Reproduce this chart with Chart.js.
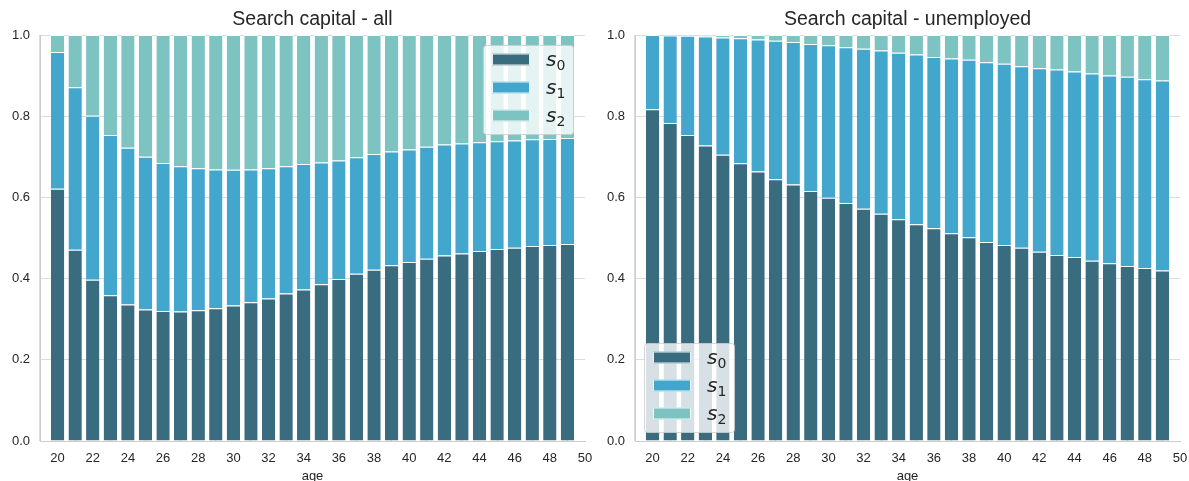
<!DOCTYPE html>
<html>
<head>
<meta charset="utf-8">
<title>Search capital by age</title>
<script src="https://cdn.jsdelivr.net/npm/chart.js@4.4.1/dist/chart.umd.min.js"></script>
<style>
  html, body { margin: 0; padding: 0; background: #ffffff; }
  #wrap { width: 1189px; height: 481px; display: flex; }
  canvas { display: block; }
</style>
</head>
<body>
<div id="wrap">
  <canvas id="chartAll" width="594" height="481"></canvas>
  <canvas id="chartUnemp" width="595" height="481"></canvas>
</div>
<script>
// Age groups on the x axis
const ages = [20, 21, 22, 23, 24, 25, 26, 27, 28, 29, 30, 31, 32, 33, 34,
              35, 36, 37, 38, 39, 40, 41, 42, 43, 44, 45, 46, 47, 48, 49];

// Share of search capital levels, all workers
const allS0 = [0.621, 0.471, 0.397, 0.359, 0.336, 0.324, 0.320, 0.319, 0.322, 0.327,
               0.334, 0.342, 0.351, 0.363, 0.373, 0.386, 0.399, 0.412, 0.422, 0.433,
               0.441, 0.449, 0.457, 0.462, 0.468, 0.473, 0.476, 0.480, 0.483, 0.485];
const allS1 = [0.337, 0.400, 0.404, 0.395, 0.386, 0.376, 0.365, 0.358, 0.350, 0.342,
               0.334, 0.327, 0.321, 0.314, 0.309, 0.300, 0.292, 0.287, 0.285, 0.280,
               0.277, 0.276, 0.273, 0.271, 0.268, 0.265, 0.264, 0.263, 0.261, 0.261];
const allS2 = [0.042, 0.129, 0.199, 0.246, 0.278, 0.300, 0.315, 0.323, 0.328, 0.331,
               0.332, 0.331, 0.328, 0.323, 0.318, 0.314, 0.309, 0.301, 0.293, 0.287,
               0.282, 0.275, 0.270, 0.267, 0.264, 0.262, 0.260, 0.257, 0.256, 0.254];

// Share of search capital levels, unemployed workers
const unempS0 = [0.817, 0.783, 0.754, 0.728, 0.705, 0.684, 0.664, 0.645, 0.632, 0.616,
                 0.599, 0.586, 0.572, 0.560, 0.546, 0.534, 0.524, 0.512, 0.502, 0.490,
                 0.483, 0.476, 0.466, 0.458, 0.453, 0.444, 0.438, 0.431, 0.426, 0.420];
const unempS1 = [0.183, 0.216, 0.244, 0.268, 0.289, 0.308, 0.325, 0.341, 0.351, 0.362,
                 0.376, 0.384, 0.394, 0.402, 0.410, 0.418, 0.422, 0.430, 0.437, 0.443,
                 0.446, 0.447, 0.452, 0.457, 0.457, 0.461, 0.462, 0.466, 0.465, 0.468];
const unempS2 = [0.000, 0.001, 0.002, 0.004, 0.006, 0.008, 0.011, 0.014, 0.017, 0.022,
                 0.025, 0.030, 0.034, 0.038, 0.044, 0.048, 0.054, 0.058, 0.061, 0.067,
                 0.071, 0.077, 0.082, 0.085, 0.090, 0.095, 0.100, 0.103, 0.109, 0.112];

// Tick labels
const xTicks = [20, 22, 24, 26, 28, 30, 32, 34, 36, 38, 40, 42, 44, 46, 48, 50];
const yTicks = [0.0, 0.2, 0.4, 0.6, 0.8, 1.0];

const seriesNames = ['0', '1', '2'];
const colors = ['#3a6c7f', '#43a6cd', '#7dc3c1'];

const TEXT = '#262626';
const FONT = '"Liberation Sans", Arial, sans-serif';

function makeDatasets(series) {
  return series.map((vals, k) => ({
    label: 's' + seriesNames[k],
    data: ages.map((a, i) => ({ x: a, y: vals[i] })),
    backgroundColor: colors[k],
    borderColor: '#ffffff',
    borderWidth: { top: 1, left: 0, right: 0, bottom: 0 },
    borderSkipped: false,
    barPercentage: 0.76,
    categoryPercentage: 1.0
  }));
}

// Title, x-axis caption and an in-plot legend
const decorPlugin = {
  id: 'decor',
  afterDraw(chart, args, opts) {
    const ctx = chart.ctx;
    const area = chart.chartArea;
    ctx.save();
    // title
    ctx.fillStyle = TEXT;
    ctx.font = '19.5px ' + FONT;
    ctx.textAlign = 'center';
    ctx.textBaseline = 'middle';
    ctx.fillText(opts.title, (area.left + area.right) / 2, 20);
    // x-axis caption
    ctx.font = '13px ' + FONT;
    ctx.fillText('age', (area.left + area.right) / 2, 476);

    // legend box
    const w = 90, h = 89;
    let bx, by;
    if (opts.legendPos === 'upper right') {
      bx = area.right - 12 - w;
      by = area.top + 10;
    } else {
      bx = area.left + 9;
      by = area.bottom - 9 - h;
    }
    ctx.beginPath();
    ctx.roundRect(bx + 0.5, by + 0.5, w, h, 3);
    ctx.fillStyle = 'rgba(255,255,255,0.8)';
    ctx.fill();
    ctx.strokeStyle = 'rgba(204,204,204,0.8)';
    ctx.lineWidth = 1;
    ctx.stroke();

    const rows = [14.5, 42.5, 70.5];
    rows.forEach((ry, k) => {
      const cy = by + ry;
      ctx.fillStyle = colors[k];
      ctx.fillRect(bx + 9, cy - 6, 38, 12);
      ctx.strokeStyle = 'rgba(255,255,255,0.9)';
      ctx.strokeRect(bx + 9.5, cy - 5.5, 37, 11);
      // label: italic s with a subscript index
      ctx.fillStyle = TEXT;
      ctx.textAlign = 'left';
      ctx.textBaseline = 'alphabetic';
      ctx.font = 'italic 20px "DejaVu Sans"';
      const sx = bx + 63;
      ctx.fillText('s', sx, cy + 6);
      const sw = ctx.measureText('s').width;
      ctx.font = '14px "DejaVu Sans"';
      ctx.fillText(seriesNames[k], sx + sw, cy + 10);
    });
    ctx.restore();
  }
};

function makeChart(id, series, title, legendPos, yWidth) {
  return new Chart(document.getElementById(id), {
    type: 'bar',
    data: { datasets: makeDatasets(series) },
    plugins: [decorPlugin],
    options: {
      responsive: false,
      animation: false,
      events: [],
      layout: { padding: { top: 35, right: 9, bottom: 0, left: 0 } },
      scales: {
        x: {
          type: 'linear',
          stacked: true,
          min: 19,
          max: 50,
          offset: false,
          afterBuildTicks: s => { s.ticks = xTicks.map(v => ({ value: v })); },
          afterFit: s => { s.height = 40; s.paddingLeft = 0; s.paddingRight = 0; },
          ticks: {
            autoSkip: false,
            maxRotation: 0,
            padding: 10,
            color: TEXT,
            font: { family: FONT, size: 13 },
            callback: v => String(v)
          },
          grid: { color: '#dcdcdc', lineWidth: 1, drawTicks: false },
          border: { display: true, color: '#cccccc', width: 1 }
        },
        y: {
          stacked: true,
          min: 0,
          max: 1,
          afterBuildTicks: s => { s.ticks = yTicks.map(v => ({ value: v })); },
          afterFit: s => { s.width = yWidth; s.paddingTop = 0; s.paddingBottom = 0; },
          ticks: {
            padding: 10,
            color: TEXT,
            font: { family: FONT, size: 13 },
            callback: v => Number(v).toFixed(1)
          },
          grid: { color: '#dcdcdc', lineWidth: 1, drawTicks: false },
          border: { display: true, color: '#cccccc', width: 1 }
        }
      },
      plugins: {
        legend: { display: false },
        title: { display: false },
        tooltip: { enabled: false },
        decor: { title: title, legendPos: legendPos }
      }
    }
  });
}

makeChart('chartAll', [allS0, allS1, allS2], 'Search capital - all', 'upper right', 40);
makeChart('chartUnemp', [unempS0, unempS1, unempS2], 'Search capital - unemployed', 'lower left', 41);
</script>
</body>
</html>
